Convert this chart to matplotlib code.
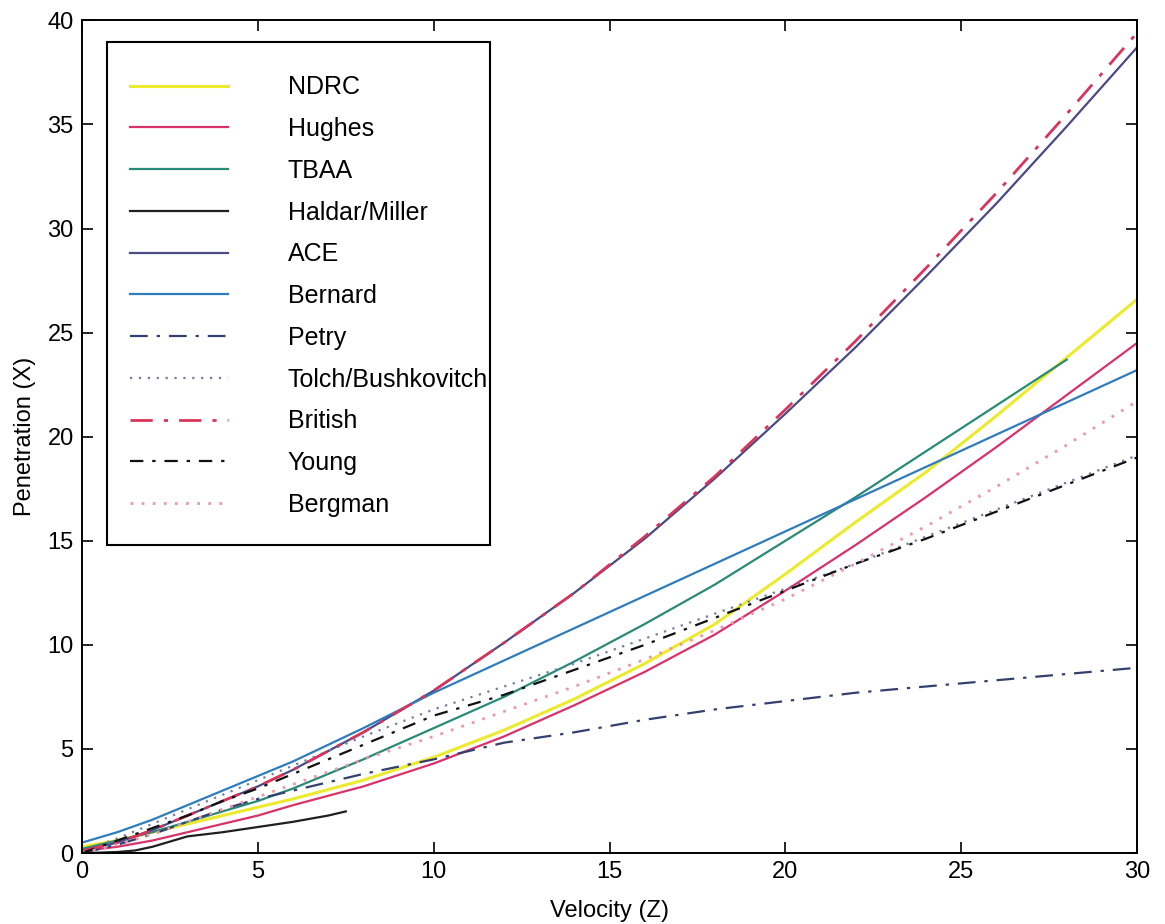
import matplotlib
matplotlib.use("Agg")
import matplotlib.pyplot as plt
from matplotlib.patches import Rectangle

v = [0, 1, 2, 3, 4, 5, 6, 8, 10, 12, 14, 16, 18, 20, 22, 24, 26, 28, 30]

ndrc = [0.3, 0.6, 1.0, 1.4, 1.8, 2.2, 2.6, 3.5, 4.6, 5.9, 7.4, 9.1, 11.0, 13.4, 15.9, 18.3, 21.0, 23.8, 26.6]
hughes = [0.1, 0.3, 0.6, 1.0, 1.4, 1.8, 2.3, 3.2, 4.3, 5.6, 7.1, 8.7, 10.5, 12.6, 14.8, 17.1, 19.5, 22.0, 24.5]
ace = [0.1, 0.5, 1.1, 1.8, 2.5, 3.2, 4.0, 5.8, 7.8, 10.1, 12.5, 15.1, 18.0, 21.1, 24.3, 27.7, 31.2, 34.9, 38.7]
bernard = [0.5, 1.0, 1.6, 2.3, 3.0, 3.7, 4.4, 6.0, 7.7, 9.25, 10.8, 12.35, 13.9, 15.45, 17.0, 18.55, 20.1, 21.65, 23.2]
petry = [0.0, 0.4, 0.9, 1.5, 2.1, 2.6, 3.0, 3.8, 4.5, 5.3, 5.8, 6.4, 6.9, 7.3, 7.7, 8.0, 8.3, 8.6, 8.9]
tolch = [0.1, 0.7, 1.4, 2.1, 2.8, 3.5, 4.2, 5.6, 6.9, 8.0, 9.1, 10.3, 11.5, 12.7, 13.9, 15.2, 16.5, 17.8, 19.1]
british = [0.1, 0.5, 1.1, 1.8, 2.5, 3.2, 4.0, 5.8, 7.8, 10.1, 12.5, 15.2, 18.1, 21.3, 24.6, 28.1, 31.7, 35.5, 39.4]
young = [0.0, 0.6, 1.2, 1.8, 2.5, 3.1, 3.8, 5.2, 6.6, 7.6, 8.8, 10.0, 11.3, 12.6, 13.9, 15.1, 16.4, 17.7, 19.0]
bergman = [0.0, 0.4, 0.9, 1.5, 2.1, 2.7, 3.3, 4.5, 5.6, 6.8, 8.0, 9.3, 10.7, 12.2, 13.9, 15.7, 17.6, 19.6, 21.7]

v_tbaa = [0, 1, 2, 3, 4, 5, 6, 8, 10, 12, 14, 16, 18, 20, 22, 24, 26, 28]
tbaa = [0.2, 0.6, 1.0, 1.5, 2.0, 2.5, 3.1, 4.5, 6.0, 7.5, 9.2, 11.0, 12.9, 15.0, 17.1, 19.3, 21.5, 23.7]

v_haldar = [0, 0.5, 1, 1.5, 2, 2.5, 3, 4, 5, 6, 7, 7.5]
haldar = [0.0, 0.02, 0.05, 0.12, 0.3, 0.55, 0.8, 1.0, 1.25, 1.5, 1.8, 2.0]


def main():
    plt.rcParams["font.family"] = ["Liberation Sans", "DejaVu Sans"]
    fig = plt.figure(figsize=(11.65, 9.24), dpi=100)
    ax = fig.add_axes([0.0704, 0.0768, 0.9056, 0.9012])

    lw = 1.6
    ax.plot(v, ndrc, color="#ecea2c", lw=2.2, label="NDRC")
    ax.plot(v, hughes, color="#d8326a", lw=lw, label="Hughes")
    ax.plot(v_tbaa, tbaa, color="#2a8a78", lw=lw, label="TBAA")
    ax.plot(v_haldar, haldar, color="#202020", lw=lw, label="Haldar/Miller")
    ax.plot(v, ace, color="#4a4a84", lw=lw, label="ACE")
    ax.plot(v, bernard, color="#2f7cbc", lw=lw, label="Bernard")
    ax.plot(v, petry, color="#34406e", lw=lw, ls=(0, (8, 4, 1.5, 4)), label="Petry")
    ax.plot(v, tolch, color="#6f7fa2", lw=lw, ls=(0, (1, 3)), label="Tolch/Bushkovitch")
    ax.plot(v, british, color="#d8345c", lw=2.0, ls=(0, (8, 4, 1.5, 4)), label="British")
    ax.plot(v, young, color="#111111", lw=lw, ls=(0, (6, 4, 1.5, 4)), label="Young")
    ax.plot(v, bergman, color="#ec98aa", lw=2.0, ls=(0, (1, 3)), label="Bergman")

    ax.set_xlim(0, 30)
    ax.set_ylim(0, 40)
    ax.set_xticks(range(0, 31, 5))
    ax.set_yticks(range(0, 41, 5))
    ax.tick_params(direction="in", length=8, width=1.2, top=True, right=True,
                   labelsize=17, pad=6)
    for s in ax.spines.values():
        s.set_linewidth(1.4)
    ax.set_xlabel("Velocity (Z)", fontsize=17, labelpad=12)
    ax.set_ylabel("Penetration (X)", fontsize=17, labelpad=8)

    # legend frame drawn by hand so its padding matches the original box
    box = Rectangle((0.0237, 0.3697), 0.363, 0.6039, transform=ax.transAxes,
                    facecolor="white", edgecolor="black", lw=1.5, zorder=4)
    ax.add_patch(box)
    leg = ax.legend(loc="upper left", bbox_to_anchor=(0.0455, 0.934), fontsize=18,
                    handlelength=3.9, handletextpad=2.4, labelspacing=0.71,
                    borderpad=0, borderaxespad=0, frameon=False)
    leg.set_zorder(5)

    fig.savefig("out.png", dpi=100)


if __name__ == "__main__":
    main()
